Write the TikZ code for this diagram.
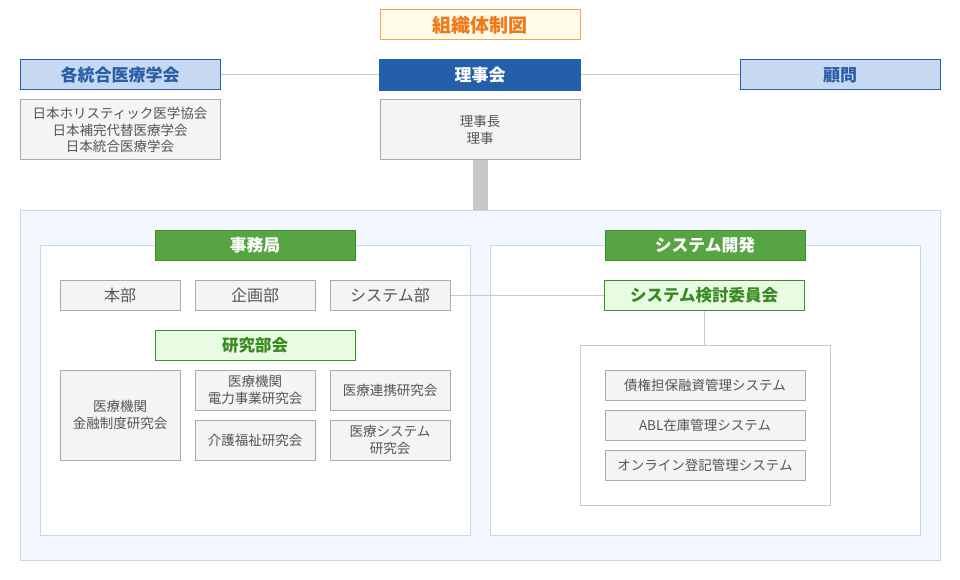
\documentclass[tikz,border=0pt]{standalone}
\usepackage{fontspec}
\setmainfont{Noto Sans CJK JP}
\definecolor{ttlfill}{HTML}{FFFDE9}
\definecolor{ttlline}{HTML}{F9A44C}
\definecolor{ttltext}{HTML}{F07818}
\definecolor{lbfill}{HTML}{C6D9F1}
\definecolor{lbline}{HTML}{2A60AE}
\definecolor{lbtext}{HTML}{2A5FA6}
\definecolor{dbfill}{HTML}{245FAA}
\definecolor{gfill}{HTML}{F4F4F4}
\definecolor{gline}{HTML}{ABABAB}
\definecolor{gtext}{HTML}{555555}
\definecolor{conn}{HTML}{C8C8C8}
\definecolor{outfill}{HTML}{F3F8FE}
\definecolor{outline}{HTML}{C4D8F0}
\definecolor{grfill}{HTML}{56A442}
\definecolor{grline}{HTML}{3E8C2A}
\definecolor{lgfill}{HTML}{E7FCE3}
\definecolor{lgtext}{HTML}{3A8A22}
\tikzset{
  bx/.style={rectangle, inner sep=0pt, line width=1pt, align=center},
  titlebox/.style={bx, fill=ttlfill, draw=ttlline, text=ttltext, font=\fontsize{19}{22}\selectfont\bfseries},
  lightblue/.style={bx, fill=lbfill, draw=lbline, text=lbtext, font=\fontsize{17}{20}\selectfont\bfseries},
  darkblue/.style={bx, fill=dbfill, draw=dbfill, text=white, font=\fontsize{17}{20}\selectfont\bfseries},
  graysmall/.style={bx, fill=gfill, draw=gline, text=gtext, font=\fontsize{13.5}{16.5}\selectfont},
  graybig/.style={bx, fill=gfill, draw=gline, text=gtext, font=\fontsize{16}{19}\selectfont},
  greenhead/.style={bx, fill=grfill, draw=grline, text=white, font=\fontsize{16.8}{20}\selectfont\bfseries},
  lightgreen/.style={bx, fill=lgfill, draw=grline, text=lgtext, font=\fontsize{16.5}{20}\selectfont\bfseries},
  container/.style={rectangle, inner sep=0pt, line width=1pt, draw=outline, fill=white},
  conline/.style={draw=conn, line width=1pt},
}
\begin{document}
\begin{tikzpicture}[x=1pt,y=-1pt]
\useasboundingbox[fill=white] (0,0) rectangle (960,580);
% top
\node[titlebox, minimum width=200, minimum height=30] (title) at (480,25) {組織体制図};
\node[lightblue, minimum width=200, minimum height=30] (kyoukai) at (120,75) {各統合医療学会};
\node[darkblue, minimum width=201, minimum height=31] (rijikai) at (480,75) {理事会};
\node[lightblue, minimum width=200, minimum height=30] (komon) at (840,75) {顧問};
\draw[conline] (kyoukai) -- (rijikai);
\draw[conline] (rijikai) -- (komon);
\node[graysmall, minimum width=200, minimum height=60] (gakkai) at (120,130) {日本ホリスティック医学協会\\日本補完代替医療学会\\日本統合医療学会};
\node[graysmall, minimum width=200, minimum height=60] (riji) at (480,130) {理事長\\理事};
% outer
\node[rectangle, inner sep=0pt, line width=1pt, draw=outline, fill=outfill, minimum width=920, minimum height=350] (outer) at (480,385) {};
\draw[draw=conn, line width=15pt] (riji.south) -- (riji.south |- outer.north);
% inner panels
\node[container, minimum width=430, minimum height=290] (left) at (255,390) {};
\node[container, minimum width=430, minimum height=290] (right) at (705,390) {};
\node[greenhead, minimum width=200, minimum height=30] (jimu) at (255,245) {事務局};
\node[greenhead, minimum width=200, minimum height=30] (sysdev) at (705,245) {システム開発};
\node[graybig, minimum width=120, minimum height=30] (honbu) at (120,295) {本部};
\node[graybig, minimum width=120, minimum height=30] (kikaku) at (255,295) {企画部};
\node[graybig, minimum width=120, minimum height=30] (sysbu) at (390,295) {システム部};
\node[lightgreen, minimum width=200, minimum height=30] (iinkai) at (704,295) {システム検討委員会};
\draw[conline] (sysbu) -- (iinkai);
\node[lightgreen, minimum width=200, minimum height=30] (kenkyu) at (255,345) {研究部会};
\node[graysmall, minimum width=120, minimum height=90] (kinyu) at (120,415) {医療機関\\金融制度研究会};
\node[graysmall, minimum width=120, minimum height=40] (denryoku) at (255,390) {医療機関\\電力事業研究会};
\node[graysmall, minimum width=120, minimum height=40] (renkei) at (390,390) {医療連携研究会};
\node[graysmall, minimum width=120, minimum height=40] (kaigo) at (255,440) {介護福祉研究会};
\node[graysmall, minimum width=120, minimum height=40] (iryosys) at (390,440) {医療システム\\研究会};
% right system box
\node[rectangle, inner sep=0pt, line width=1pt, draw=conn, fill=white, minimum width=250, minimum height=160] (subbox) at (705,425) {};
\draw[conline] (iinkai.south) -- (iinkai.south |- subbox.north);
\node[graysmall, minimum width=200, minimum height=30] (saiken) at (705,385) {債権担保融資管理システム};
\node[graysmall, minimum width=200, minimum height=30] (abl) at (705,425) {ABL在庫管理システム};
\node[graysmall, minimum width=200, minimum height=30] (online) at (705,465) {オンライン登記管理システム};
\end{tikzpicture}
\end{document}
